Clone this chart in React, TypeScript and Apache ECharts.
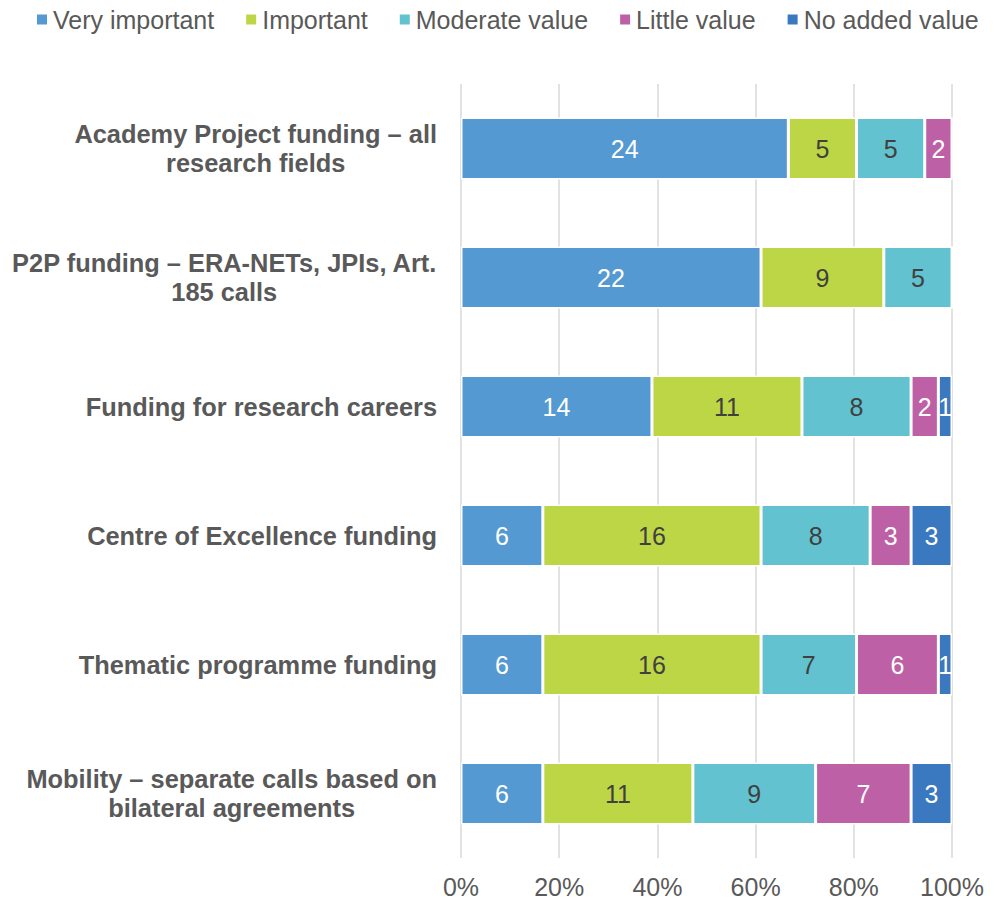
import React, { useEffect, useRef } from "react";
import * as echarts from "echarts";

const categories = [
  "Academy Project funding – all\nresearch fields",
  "P2P funding – ERA-NETs, JPIs, Art.\n185 calls",
  "Funding for research careers",
  "Centre of Excellence funding",
  "Thematic programme funding",
  "Mobility – separate calls based on\nbilateral agreements",
];
const seriesNames = ["Very important", "Important", "Moderate value", "Little value", "No added value"];
const veryImportant = [24, 22, 14, 6, 6, 6];
const important = [5, 9, 11, 16, 16, 11];
const moderateValue = [5, 5, 8, 8, 7, 9];
const littleValue = [2, 0, 2, 3, 6, 7];
const noAddedValue = [0, 0, 1, 3, 1, 3];
const xTicks = ["0%", "20%", "40%", "60%", "80%", "100%"];

const colors = ["#5599D3", "#BDD645", "#62C2CF", "#BE60A6", "#3A78BF"];
const labelColors = ["#ffffff", "#404040", "#404040", "#ffffff", "#ffffff"];

export default function App() {
  const ref = useRef<HTMLDivElement>(null);
  useEffect(() => {
    if (!ref.current) return;
    const chart = echarts.init(ref.current, undefined, { renderer: "svg" });
    const all = [veryImportant, important, moderateValue, littleValue, noAddedValue];
    const totals = categories.map((_, i) => all.reduce((s, arr) => s + arr[i], 0));
    const font = "'Liberation Sans', Arial, sans-serif";
    chart.setOption({
      animation: false,
      color: colors,
      textStyle: { fontFamily: font },
      legend: {
        top: 7,
        left: 35,
        padding: 0,
        itemWidth: 12,
        itemHeight: 12,
        itemGap: 30,
        icon: "rect",
        textStyle: { fontSize: 25, color: "#595959", fontFamily: font },
        data: seriesNames,
      },
      grid: { left: 461, right: 46, top: 84, bottom: 51 },
      xAxis: {
        type: "value",
        min: 0,
        max: 100,
        interval: 20,
        axisLine: { show: false },
        axisTick: { show: false },
        splitLine: { show: true, lineStyle: { color: "#D9D9D9", width: 1.5 } },
        axisLabel: {
          margin: 16,
          fontSize: 25,
          color: "#595959",
          fontFamily: font,
          formatter: (v: number) => xTicks[Math.round(v / 20)],
        },
      },
      yAxis: {
        type: "category",
        inverse: true,
        data: categories,
        axisLine: { show: false },
        axisTick: { show: false },
        axisLabel: {
          margin: 24,
          formatter: (v: string) =>
            v.split("\n").map((l) => `{c|${l}}`).join("\n"),
          rich: {
            c: {
              align: "center",
              fontSize: 25.4,
              fontWeight: "bold",
              color: "#595959",
              fontFamily: font,
              lineHeight: 29,
            },
          },
        },
      },
      series: all.map((arr, si) => ({
        name: seriesNames[si],
        type: "bar",
        stack: "total",
        barWidth: 62,
        data: arr.map((v, i) => ({ value: (v / totals[i]) * 100 })),
        itemStyle: { color: colors[si], borderColor: "#ffffff", borderWidth: 1.5 },
        label: {
          show: true,
          position: "inside",
          fontSize: 25,
          color: labelColors[si],
          fontFamily: font,
          formatter: (p: any) => (arr[p.dataIndex] > 0 ? String(arr[p.dataIndex]) : ""),
        },
      })),
    });
    return () => chart.dispose();
  }, []);
  return <div ref={ref} style={{ width: 998, height: 909, margin: -8 }} />;
}
